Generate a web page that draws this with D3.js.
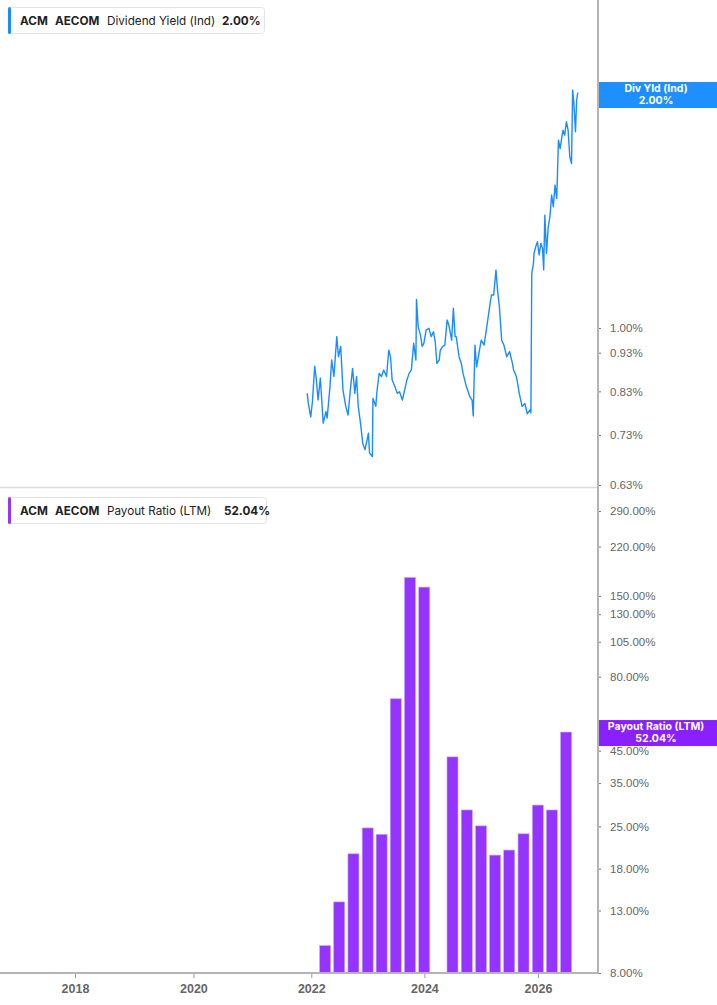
<!DOCTYPE html>
<html>
<head>
<meta charset="utf-8">
<script src="https://cdn.jsdelivr.net/npm/d3@7"></script>
<style>
  body { margin: 0; background: #fff; }
  svg { display: block; font-family: Inter, "Noto Sans", sans-serif; }
</style>
</head>
<body>
<div id="chart"></div>
<script>

// dividend yield (Ind), % -- dates as decimal years
var divYears = [2021.93, 2021.95, 2021.99, 2022.02, 2022.06, 2022.09, 2022.12, 2022.16, 2022.21, 2022.26,
  2022.28, 2022.33, 2022.36, 2022.40, 2022.45, 2022.48, 2022.52, 2022.56, 2022.61, 2022.65,
  2022.69, 2022.73, 2022.77, 2022.80, 2022.83, 2022.87, 2022.91, 2022.95, 2022.98, 2023.01,
  2023.03, 2023.08, 2023.09, 2023.14, 2023.16, 2023.20, 2023.24, 2023.28, 2023.33, 2023.37,
  2023.40, 2023.43, 2023.48, 2023.52, 2023.56, 2023.61, 2023.65, 2023.69, 2023.73, 2023.77,
  2023.81, 2023.85, 2023.86, 2023.89, 2023.93, 2023.96, 2023.99, 2024.03, 2024.08, 2024.12,
  2024.16, 2024.19, 2024.22, 2024.26, 2024.28, 2024.32, 2024.36, 2024.40, 2024.43, 2024.48,
  2024.51, 2024.54, 2024.56, 2024.61, 2024.65, 2024.68, 2024.74, 2024.80, 2024.84, 2024.86,
  2024.89, 2024.92, 2024.96, 2025.00, 2025.05, 2025.09, 2025.14, 2025.18, 2025.22, 2025.26,
  2025.29, 2025.32, 2025.36, 2025.40, 2025.45, 2025.50, 2025.55, 2025.57, 2025.62, 2025.67,
  2025.72, 2025.77, 2025.81, 2025.86, 2025.875, 2025.89, 2025.92, 2025.93, 2025.96, 2025.99,
  2026.02, 2026.05, 2026.08, 2026.10, 2026.12, 2026.15, 2026.18, 2026.21, 2026.24, 2026.27,
  2026.30, 2026.33, 2026.36, 2026.39, 2026.42, 2026.44, 2026.47, 2026.50, 2026.53, 2026.56,
  2026.59, 2026.61, 2026.63, 2026.66, 2026.68, 2026.70];

var divValues = [0.825, 0.801, 0.770, 0.805, 0.894, 0.858, 0.809, 0.863, 0.756, 0.782,
  0.767, 0.841, 0.910, 0.867, 0.975, 0.919, 0.947, 0.833, 0.794, 0.774,
  0.833, 0.888, 0.825, 0.867, 0.794, 0.756, 0.712, 0.699, 0.716, 0.734,
  0.692, 0.685, 0.813, 0.794, 0.829, 0.875, 0.867, 0.884, 0.867, 0.937,
  0.919, 0.858, 0.841, 0.825, 0.829, 0.809, 0.833, 0.858, 0.875, 0.884,
  0.956, 0.910, 1.088, 1.004, 0.980, 0.947, 0.956, 0.994, 0.999, 0.975,
  0.989, 0.961, 0.901, 0.910, 0.937, 0.947, 0.951, 1.024, 1.009, 0.965,
  1.060, 0.975, 0.975, 0.919, 0.901, 0.875, 0.841, 0.817, 0.809, 0.772,
  0.951, 0.892, 0.928, 0.965, 0.951, 0.994, 1.054, 1.102, 1.102, 1.186,
  1.113, 1.065, 0.965, 0.951, 0.919, 0.933, 0.901, 0.884, 0.867, 0.825,
  0.794, 0.801, 0.777, 0.786, 0.779, 1.174, 1.209, 1.246, 1.270, 1.289,
  1.240, 1.283, 1.264, 1.186, 1.394, 1.246, 1.347, 1.387, 1.479, 1.429,
  1.523, 1.464, 1.738, 1.696, 1.755, 1.790, 1.764, 1.835, 1.790, 1.655,
  1.623, 2.014, 1.946, 1.782, 1.955, 2.000];

// payout ratio (LTM), % per fiscal quarter end (null = not reported)
var payoutDates = ["2022-03-31", "2022-06-30", "2022-09-30", "2022-12-31", "2023-03-31", "2023-06-30",
  "2023-09-30", "2023-12-31", "2024-03-31", "2024-06-30", "2024-09-30", "2024-12-31",
  "2025-03-31", "2025-06-30", "2025-09-30", "2025-12-31", "2026-03-31", "2026-06-30"];
var payoutValues = [9.9, 13.9, 20.2, 24.7, 23.5, 67.4, 173, 160.5, null, 42.9, 28.4, 25.1,
  20.0, 20.8, 23.6, 29.5, 28.4, 52.04];

var yearTicks = [2018, 2020, 2022, 2024, 2026];
var divTicks = [0.63, 0.73, 0.83, 0.93, 1.00];
var payoutTicks = [8, 13, 18, 25, 35, 45, 80, 105, 130, 150, 220, 290];

var divLast = 2.00;
var payoutLast = 52.04;

var blue = "#1a8cff";
var purple = "#9533ff";

var width = 717, height = 1005;
var axisX = 598;

var svg = d3.select('#chart')
  .append('svg')
  .attr('width', width)
  .attr('height', height);

var toYear = function(s) {
  var d = d3.timeParse("%Y-%m-%d")(s);
  var y0 = new Date(d.getFullYear(), 0, 1), y1 = new Date(d.getFullYear() + 1, 0, 1);
  return d.getFullYear() + (d - y0) / (y1 - y0);
};

// the source axis is not quite even between years, so use a piecewise scale
var x = d3.scaleLinear()
  .domain(yearTicks)
  .range([75, 193.4, 311.3, 424.4, 538]);

var yTop = d3.scaleLog().domain([0.63, 2.0]).range([485, 92.5]);
var yBot = d3.scaleLog().domain([8, 290]).range([973, 511]);

// frame ==========================

svg.append('line')
  .attr('x1', 0).attr('x2', axisX)
  .attr('y1', 487.5).attr('y2', 487.5)
  .attr('stroke', '#dcdcdc').attr('stroke-width', 1.5);

// bars ===========================

var bars = payoutDates.map(function(d, i) {
  return { t: toYear(d), v: payoutValues[i] };
}).filter(function(d) { return d.v != null; });

svg.append('g').selectAll('rect')
  .data(bars)
  .enter().append('rect')
  .attr('x', function(d) { return x(d.t) - 5.5; })
  .attr('width', 11)
  .attr('y', function(d) { return yBot(d.v); })
  .attr('height', function(d) { return yBot(8) - yBot(d.v); })
  .attr('fill', purple)
  .attr('stroke', '#c9a3ff')
  .attr('stroke-width', 0.6);

// line ===========================

var divData = divYears.map(function(t, i) { return { t: t, v: divValues[i] }; });

svg.append('path')
  .datum(divData)
  .attr('fill', 'none')
  .attr('stroke', blue)
  .attr('stroke-width', 1.4)
  .attr('stroke-linejoin', 'round')
  .attr('d', d3.line()
    .x(function(d) { return x(d.t); })
    .y(function(d) { return yTop(d.v); }));

// axes ===========================

var xAxis = svg.append('g')
  .attr('transform', 'translate(0,973)')
  .call(d3.axisBottom(x).tickValues(yearTicks).tickFormat(d3.format('d')).tickSize(5).tickSizeOuter(0));
xAxis.select('.domain').remove();
xAxis.selectAll('.tick line').attr('stroke', '#999');
xAxis.selectAll('.tick text')
  .attr('y', 11)
  .attr('dy', '0.71em')
  .attr('fill', '#666')
  .style('font-size', '12.5px')
  .style('font-weight', 600);

svg.append('line')
  .attr('x1', 0).attr('x2', axisX)
  .attr('y1', 973).attr('y2', 973)
  .attr('stroke', '#b4b4b4').attr('stroke-width', 2);

var drawRight = function(scale, ticks, fmt) {
  var g = svg.append('g')
    .attr('transform', 'translate(' + axisX + ',0)')
    .call(d3.axisRight(scale).tickValues(ticks).tickFormat(fmt).tickSize(3).tickPadding(9));
  g.select('.domain').remove();
  g.selectAll('.tick line').attr('stroke', '#777');
  g.selectAll('.tick text')
    .attr('fill', '#666')
    .style('font-size', '11.5px');
  return g;
};

var pct = function(d) { return d3.format('.2f')(d) + '%'; };
drawRight(yTop, divTicks, pct);
drawRight(yBot, payoutTicks, pct);

svg.append('line')
  .attr('x1', axisX).attr('x2', axisX)
  .attr('y1', 0).attr('y2', 974)
  .attr('stroke', '#b4b4b4').attr('stroke-width', 2);

// value callouts on the axis

var callout = function(yPos, color, label, value) {
  var g = svg.append('g');
  g.append('rect')
    .attr('x', axisX + 1).attr('y', yPos - 13)
    .attr('width', width - axisX).attr('height', 26)
    .attr('fill', color);
  g.append('text')
    .attr('x', 656).attr('y', yPos - 3)
    .attr('text-anchor', 'middle')
    .attr('fill', '#fff')
    .style('font-size', '10.5px').style('font-weight', 700)
    .text(label);
  g.append('text')
    .attr('x', 656).attr('y', yPos + 9)
    .attr('text-anchor', 'middle')
    .attr('fill', '#fff')
    .style('font-size', '10.5px').style('font-weight', 700)
    .text(value);
};

callout(yTop(divLast) + 2.5, '#1e8fff', 'Div Yld (Ind)', pct(divLast));
callout(yBot(payoutLast) + 1, '#8a1fff', 'Payout Ratio (LTM)', pct(payoutLast));

// legends ========================

var legend = function(yPos, w, color, name, value) {
  var g = svg.append('g').attr('transform', 'translate(8,' + yPos + ')');
  g.append('rect')
    .attr('x', 0.5).attr('y', 0.5)
    .attr('width', w).attr('height', 26)
    .attr('rx', 3)
    .attr('fill', '#fff')
    .attr('stroke', '#e4e4e4');
  g.append('rect')
    .attr('x', 0).attr('y', 0)
    .attr('width', 3).attr('height', 27)
    .attr('rx', 1.5)
    .attr('fill', color);
  var t = g.append('text')
    .attr('y', 17.5)
    .attr('fill', '#222')
    .style('font-size', '11.7px');
  t.append('tspan').attr('x', 12).style('font-weight', 700).text('ACM');
  t.append('tspan').attr('x', 47).style('font-weight', 700).text('AECOM');
  t.append('tspan').attr('x', 99).text(name);
  t.append('tspan').attr('x', w - 42).style('font-weight', 700).text(value);
};

legend(7, 256, blue, 'Dividend Yield (Ind)', pct(divLast));
legend(497, 258, purple, 'Payout Ratio (LTM)', pct(payoutLast));

</script>
</body>
</html>
